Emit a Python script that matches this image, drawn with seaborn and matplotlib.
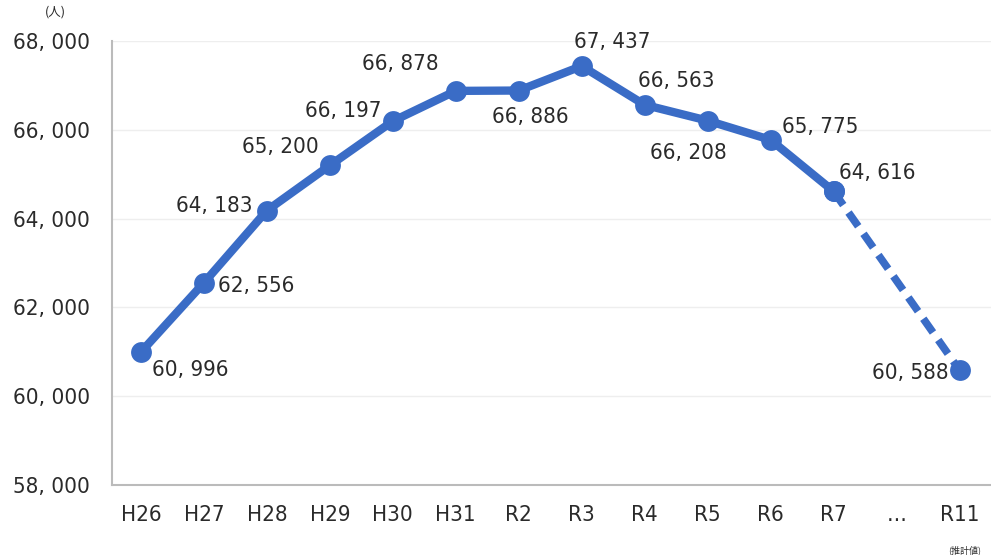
import matplotlib
matplotlib.use("Agg")
import matplotlib.pyplot as plt
import seaborn as sns
import pandas as pd
from matplotlib import font_manager as fm

categories = ["H26", "H27", "H28", "H29", "H30", "H31", "R2", "R3", "R4", "R5", "R6", "R7", "…", "R11"]
actual_labels = ["H26", "H27", "H28", "H29", "H30", "H31", "R2", "R3", "R4", "R5", "R6", "R7"]
actual_values = [60996, 62556, 64183, 65200, 66197, 66878, 66886, 67437, 66563, 66208, 65775, 64616]
forecast_labels = ["R7", "R11"]
forecast_values = [64616, 60588]
y_ticks = [58000, 60000, 62000, 64000, 66000, 68000]
unit_label = "(人)"
forecast_note = "(推計値)"

sns.set_theme(style="white")
names = sorted({(f.name, f.stretch) for f in fm.fontManager.ttflist if "DejaVu" in f.name or "Narrow" in f.name or "Condensed" in f.name})
print(names)
plt.rcParams["font.family"] = ["DejaVu Sans", "Noto Sans CJK JP"]
plt.rcParams["font.stretch"] = "condensed"

pos = {c: i for i, c in enumerate(categories)}
df_a = pd.DataFrame({"x": [pos[c] for c in actual_labels], "y": actual_values})
df_f = pd.DataFrame({"x": [pos[c] for c in forecast_labels], "y": forecast_values})

color = "#3a6cc6"
txt = "#2a2a2a"
fig = plt.figure(figsize=(9.91, 5.55), dpi=100)
ax = fig.add_axes([0.113, 0.126, 0.887, 0.8])

sns.lineplot(data=df_f, x="x", y="y", ax=ax, color=color, linewidth=5.5,
             linestyle=(0, (2.2, 1.2)), marker="o", markersize=15, markeredgewidth=0)
sns.lineplot(data=df_a, x="x", y="y", ax=ax, color=color, linewidth=6,
             marker="o", markersize=15, markeredgewidth=0)

ax.set_xlim(-0.46, 13.5)
ax.set_ylim(58000, 68000)
ax.set_yticks(y_ticks)
ax.set_yticklabels([f"{v:,}".replace(",", ", ") for v in y_ticks], fontsize=16, color=txt)
ax.set_xticks(range(len(categories)))
ax.set_xticklabels(categories, fontsize=16, color=txt)
ax.tick_params(axis="y", length=0, pad=16)
ax.tick_params(axis="x", length=0, pad=14)
ax.set_xlabel("")
ax.set_ylabel("")
ax.grid(axis="y", color="#eeeeee", linewidth=1)
for s in ["top", "right"]:
    ax.spines[s].set_visible(False)
for s in ["left", "bottom"]:
    ax.spines[s].set_color("#bbbbbb")
    ax.spines[s].set_linewidth(1.5)

# data labels: (dx, dy) offsets in points, ha, va
offsets = {
    "H26": (8, -6, "left", "top"),
    "H27": (10, -2, "left", "center"),
    "H28": (-10, 3, "right", "center"),
    "H29": (-8, 6, "right", "bottom"),
    "H30": (-8, 0, "right", "bottom"),
    "H31": (-12, 12, "right", "bottom"),
    "R2": (8, -12, "center", "top"),
    "R3": (22, 10, "center", "bottom"),
    "R4": (-5, 10, "left", "bottom"),
    "R5": (-14, -16, "center", "top"),
    "R6": (8, 2, "left", "bottom"),
    "R7": (4, 6, "left", "bottom"),
}
for c, v in zip(actual_labels, actual_values):
    dx, dy, ha, va = offsets[c]
    ax.annotate(f"{v:,}".replace(",", ", "), (pos[c], v), xytext=(dx, dy),
                textcoords="offset points", ha=ha, va=va, fontsize=16, color=txt)
ax.annotate(f"{forecast_values[-1]:,}".replace(",", ", "), (pos["R11"], forecast_values[-1]),
            xytext=(-8, -2), textcoords="offset points", ha="right", va="center",
            fontsize=16, color=txt)

fig.text(55 / 991, 1 - 12 / 555, unit_label, fontsize=9, ha="center", va="center",
         family=["Noto Sans CJK JP", "DejaVu Sans"], color=txt)
ax.annotate(forecast_note, (pos["R11"], 0), xycoords=("data", "axes fraction"),
            xytext=(4, -47), textcoords="offset points", ha="center", va="center",
            fontsize=6.5, family=["Noto Sans CJK JP", "DejaVu Sans"], color=txt)

fig.savefig("out.png", dpi=100)
